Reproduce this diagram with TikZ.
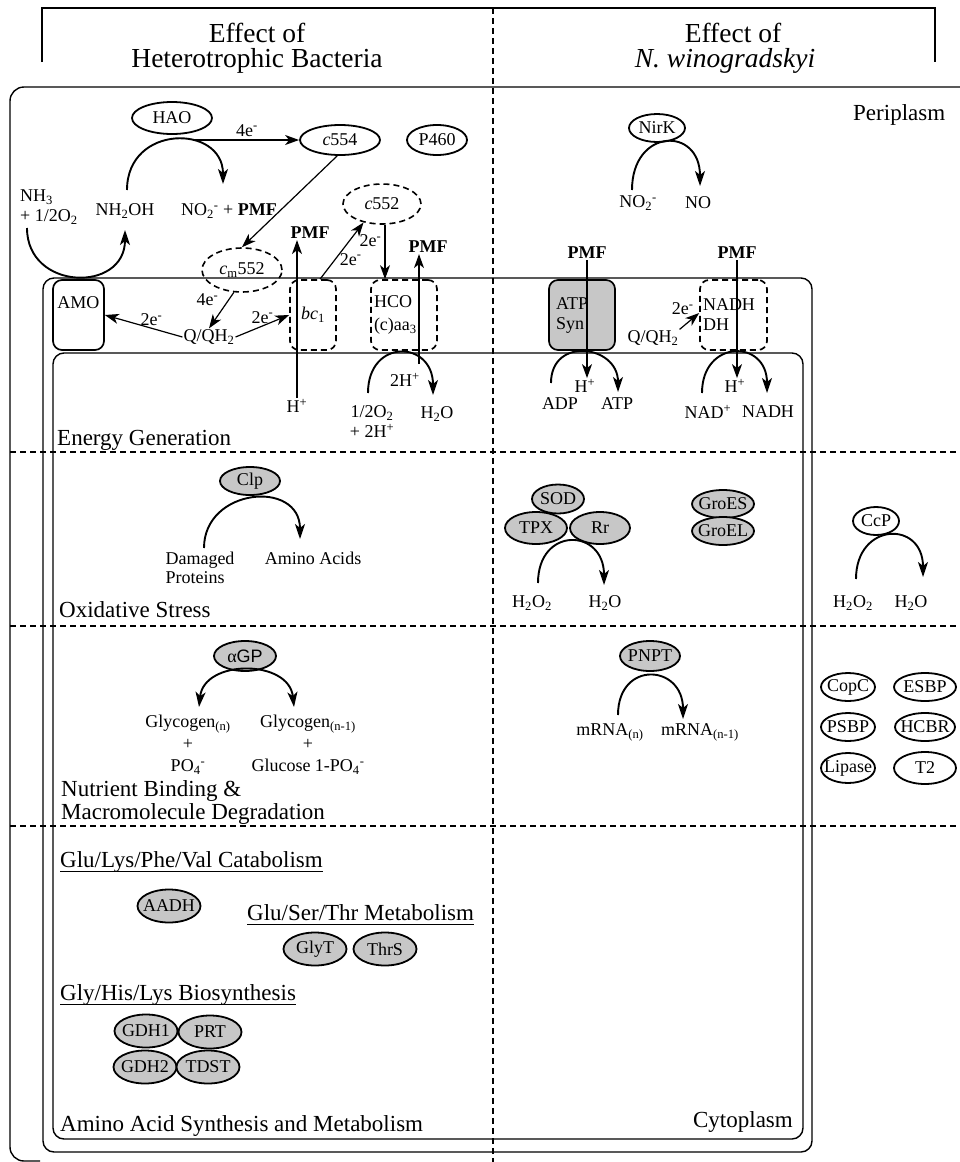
\documentclass[tikz,border=0pt]{standalone}
\usepackage{fontspec}
\setmainfont{Liberation Serif}
\newfontfamily\gpsans{Liberation Sans}
\usetikzlibrary{arrows.meta,shapes.geometric,positioning}
\newcommand{\lo}[1]{\textsubscript{#1}}
\newcommand{\hi}[1]{\textsuperscript{#1}}
\newcommand{\enz}[1]{\makebox[0pt]{#1}}

\begin{document}
\begin{tikzpicture}
      [x=1pt, y=-1pt,
      every node/.style={font=\fontsize{18}{20}\selectfont, inner sep=1pt},
      enzyme/.style={draw, ellipse, line width=1.8pt, fill=white, inner sep=0pt},
      enzyme grey/.style={enzyme, fill=black!22},
      enzyme dash/.style={draw, ellipse, line width=1.6pt, inner sep=0pt, dash pattern=on 6pt off 4pt},
      complex/.style={draw, rounded corners=9pt, line width=1.7pt, minimum height=70pt, inner ysep=0pt},
      complex dash/.style={complex, dash pattern=on 6pt off 4pt},
      area label/.style={font=\fontsize{23}{23}\selectfont, anchor=base west, align=left, inner sep=0pt},
      heading/.style={font=\fontsize{27.5}{28}\selectfont, anchor=base},
      flow/.style={line width=1.2pt, -{Stealth[length=14pt, width=10pt, inset=4pt]}},
      react/.style={line width=1.9pt, -{Stealth[length=15pt, width=10pt, inset=4pt]}},
      react both/.style={line width=1.9pt, {Stealth[length=15pt, width=10pt, inset=4pt]}-{Stealth[length=15pt, width=10pt, inset=4pt]}},
      membrane/.style={line width=1.4pt, rounded corners=11pt},
      divider/.style={line width=1.2pt, dash pattern=on 6pt off 4pt},
      ]
      \useasboundingbox (0,0) rectangle (959,1162);

      \draw[line width=1.3pt] (42,62) -- (42,8) -- (935,8) -- (935,62);
      \node[heading] (het1) at (257,42) {Effect of};
      \node[heading] (het2) at (257,67) {Heterotrophic Bacteria};
      \node[heading] (nw1) at (733,42) {Effect of};
      \node[heading] (nw2) at (725,67) {\textit{N. winogradskyi}};

      \draw[line width=1.4pt, rounded corners=14pt] (962,87) -- (10,87) -- (10,1161) -- (40,1161);
      \draw[membrane] (43,278) rectangle (812,1152);
      \draw[membrane] (53,353) rectangle (803,1139);
      \draw[divider] (493,8) -- (493,1162);
      \draw[divider] (10,452) -- (959,452);
      \draw[divider] (10,626) -- (959,626);
      \draw[divider] (10,826) -- (959,826);

      \node[area label] (peri) at (853,120) {Periplasm};
      \node[area label, anchor=base east] (cyto) at (793,1127) {Cytoplasm};
      \node[area label] (energy) at (57,445) {Energy Generation};
      \node[area label] (oxid) at (59,617) {Oxidative Stress};
      \node[area label, anchor=south west] (nutr) at (61,825) {Nutrient Binding \&\\Macromolecule Degradation};
      \node[area label] (amino) at (60,1131) {Amino Acid Synthesis and Metabolism};
      \node[area label] (cat) at (60,867) {Glu/Lys/Phe/Val Catabolism};
      \node[area label] (meta) at (247,920) {Glu/Ser/Thr Metabolism};
      \node[area label] (bios) at (60,1000) {Gly/His/Lys Biosynthesis};
      \draw[line width=1pt] ([yshift=-4pt]cat.base west) -- ([yshift=-4pt]cat.base east);
      \draw[line width=1pt] ([yshift=-4pt]meta.base west) -- ([yshift=-4pt]meta.base east);
      \draw[line width=1pt] ([yshift=-4pt]bios.base west) -- ([yshift=-4pt]bios.base east);

      \node[enzyme, minimum width=80pt, minimum height=32pt] (hao) at (172,118) {\enz{HAO}};
      \node[enzyme, minimum width=80pt, minimum height=30pt] (c554) at (340,140) {\enz{\textit{c}554}};
      \node[enzyme, minimum width=60pt, minimum height=30pt] (p460) at (437,140) {\enz{P460}};
      \node[enzyme dash, minimum width=78pt, minimum height=40pt] (c552) at (382,204) {\enz{\textit{c}552}};
      \node[enzyme dash, minimum width=80pt, minimum height=44pt] (cm552) at (242,270) {\enz{\textit{c}\lo{m}552}};
      \node[align=left, anchor=west] (nh3) at (19,207) {NH\lo{3}\\+ 1/2O\lo{2}};
      \node (nh2oh) at (125,211) {NH\lo{2}OH};
      \node (no2a) at (229,211) {NO\lo{2}\hi{-} + \textbf{PMF}};
      \coordinate (nh3c) at (27,228);
      \coordinate (nh2ohc) at (125,230);
      \draw[react] (nh3c) .. controls +(0,63) and +(0,63) .. (nh2ohc);
      \coordinate (haoin) at (127,190);
      \coordinate (haoout) at (223,184);
      \draw[react] (haoin) .. controls +(0,-66) and +(0,-60) .. (haoout);
      \coordinate (haoe) at (195,140);
      \draw[flow] (haoe) -- (c554) node[pos=0.5, above=2pt] {4e\hi{-}};
      \draw[flow] (c554.260) -- (cm552.north);

      \node[complex, minimum width=51pt, text height=13pt, text depth=27pt] (amo) at (78.5,315) {AMO};
      \node[complex dash, minimum width=46pt] (bc1) at (313,315) {\textit{bc}\lo{1}};
      \node[complex dash, text width=60pt, inner xsep=3pt, align=left] (hco) at (404,315) {HCO\\[3pt](c)aa\lo{3}};
      \node[complex, fill=black!22, text width=52pt, inner xsep=7pt, align=left] (atp) at (582,315) {ATP\\Syn};
      \node[complex dash, text width=61pt, inner xsep=3pt, align=left] (nadh) at (733.5,315) {NADH\\DH};

      \node (pmf1) at (310,233) {\textbf{PMF}};
      \node (hp1) at (297,406) {H\hi{+}};
      \draw[flow] (hp1.north) -- (hp1.north |- pmf1.south);
      \draw[flow] ([xshift=7pt]bc1.north) -- (c552.225) node[pos=0.35, right=3pt] {2e\hi{-}};
      \draw[flow] ([xshift=3pt]c552.south) -- ([xshift=3pt]c552.south |- hco.north) node[pos=0.3, left=2pt] {2e\hi{-}};
      \node (pmf2) at (428,247) {\textbf{PMF}};
      \coordinate (hcoup) at (419,364);
      \draw[flow] (hcoup) -- (hcoup |- pmf2.south);
      \node (h2h) at (405,380) {2H\hi{+}};
      \node[align=center] (o2b) at (372,422) {1/2O\lo{2}\\+ 2H\hi{+}};
      \node (h2ob) at (437,414) {H\lo{2}O};
      \coordinate (o2c) at (368,393);
      \coordinate (h2oc) at (433,395);
      \draw[react] (o2c) .. controls +(0,-55) and +(0,-55) .. (h2oc);
      \node (q1) at (209,337) {Q/QH\lo{2}};
      \draw[flow] (cm552.250) -- (q1.north) node[pos=0.2, left=9pt] {4e\hi{-}};
      \draw[flow] (q1.west) -- (amo.east) node[pos=0.4, above=1pt] {2e\hi{-}};
      \draw[flow] (q1.east) -- (bc1.west) node[midway, above=1pt] {2e\hi{-}};

      \node[enzyme, minimum width=56pt, minimum height=28pt] (nirk) at (657,128) {\enz{NirK}};
      \node (no2b) at (638,203) {NO\lo{2}\hi{-}};
      \node (no) at (698,203) {NO};
      \coordinate (nirin) at (632,190);
      \coordinate (nirout) at (700,186);
      \draw[react] (nirin) .. controls +(0,-62) and +(0,-60) .. (nirout);
      \node (pmf3) at (587,253) {\textbf{PMF}};
      \node (pmf4) at (737,253) {\textbf{PMF}};
      \node (hp3) at (585,386) {H\hi{+}};
      \draw[flow] (pmf3.south) -- (pmf3.south |- hp3.north);
      \node (adp) at (560,404) {ADP};
      \node (atpl) at (617,404) {ATP};
      \coordinate (adpc) at (551,383);
      \coordinate (atpc) at (618,392);
      \draw[react] (adpc) .. controls +(0,-47) and +(0,-47) .. (atpc);
      \node (q2) at (653,338) {Q/QH\lo{2}};
      \draw[flow] (q2.north east) -- ([yshift=2pt]nadh.west) node[pos=0.8, above left=0pt] {2e\hi{-}};
      \node (hp4) at (735,386) {H\hi{+}};
      \draw[flow] (pmf4.south) -- (pmf4.south |- hp4.north);
      \node (nadp) at (708,412) {NAD\hi{+}};
      \node (nadhl) at (768,412) {NADH};
      \coordinate (nadc) at (702,393);
      \coordinate (nadhc) at (767,393);
      \draw[react] (nadc) .. controls +(0,-54) and +(0,-54) .. (nadhc);

      \node[enzyme grey, minimum width=60pt, minimum height=28pt] (clp) at (250,481) {\enz{Clp}};
      \node[align=left, font=\fontsize{18}{19}\selectfont] (dmg) at (200,568) {Damaged\\Proteins};
      \node (aa) at (313,558) {Amino Acids};
      \coordinate (dmgc) at (204,548);
      \coordinate (aac) at (300,539);
      \draw[react] (dmgc) .. controls +(0,-60) and +(0,-60) .. (aac);
      \node[enzyme grey, minimum width=62pt, minimum height=32pt] (tpx) at (536,528) {\enz{TPX}};
      \node[enzyme grey, minimum width=60pt, minimum height=32pt] (rr) at (600,528) {\enz{Rr}};
      \node[enzyme grey, minimum width=52pt, minimum height=29pt] (sod) at (558,499) {\enz{SOD}};
      \node (h2o2a) at (532,603) {H\lo{2}O\lo{2}};
      \node (h2oa) at (605,603) {H\lo{2}O};
      \coordinate (soda) at (538,583);
      \coordinate (sodb) at (604,585);
      \draw[react] (soda) .. controls +(0,-57) and +(0,-57) .. (sodb);
      \node[enzyme grey, minimum width=62pt, minimum height=28pt] (groes) at (723,504) {\enz{GroES}};
      \node[enzyme grey, minimum width=62pt, minimum height=28pt] (groel) at (723,531) {\enz{GroEL}};
      \node[enzyme, minimum width=46pt, minimum height=28pt] (ccp) at (876,521) {\enz{CcP}};
      \node (h2o2b) at (853,603) {H\lo{2}O\lo{2}};
      \node (h2oc2) at (911,603) {H\lo{2}O};
      \coordinate (ccpa) at (856,579);
      \coordinate (ccpb) at (923,577);
      \draw[react] (ccpa) .. controls +(0,-57) and +(0,-57) .. (ccpb);

      \node[enzyme grey, minimum width=62pt, minimum height=30pt] (agp) at (245,656) {\enz{α{\gpsans GP}}};
      \coordinate (glya) at (199,707);
      \coordinate (glyb) at (294,707);
      \draw[react both] (glya) .. controls +(5,-48) and +(-5,-48) .. (glyb);
      \node[align=center, font=\fontsize{18}{22}\selectfont] (glyn) at (188,745) {Glycogen\lo{(n)}\\+\\PO\lo{4}\hi{-}};
      \node[align=center, font=\fontsize{18}{22}\selectfont] (glyn1) at (308,745) {Glycogen\lo{(n-1)}\\+\\Glucose 1-PO\lo{4}\hi{-}};
      \node[enzyme grey, minimum width=60pt, minimum height=30pt] (pnpt) at (650,656) {\enz{PNPT}};
      \node (mrna) at (610,732) {mRNA\lo{(n)}};
      \node (mrna1) at (700,732) {mRNA\lo{(n-1)}};
      \coordinate (mra) at (618,715);
      \coordinate (mrb) at (683,719);
      \draw[react] (mra) .. controls +(0,-55) and +(0,-55) .. (mrb);
      \node[enzyme, minimum width=54pt, minimum height=28pt] (copc) at (848,687) {\enz{CopC}};
      \node[enzyme, minimum width=62pt, minimum height=28pt] (esbp) at (925,687) {\enz{ESBP}};
      \node[enzyme, minimum width=54pt, minimum height=28pt] (psbp) at (848,727) {\enz{PSBP}};
      \node[enzyme, minimum width=60pt, minimum height=28pt] (hcbr) at (925,727) {\enz{HCBR}};
      \node[enzyme, minimum width=54pt, minimum height=30pt] (lipase) at (848,768) {\enz{Lipase}};
      \node[enzyme, minimum width=62pt, minimum height=32pt] (t2) at (925,768) {\enz{T2}};

      \node[enzyme grey, minimum width=63pt, minimum height=33pt] (aadh) at (169,906) {\enz{AADH}};
      \node[enzyme grey, minimum width=63pt, minimum height=33pt] (glyt) at (315,949) {\enz{GlyT}};
      \node[enzyme grey, minimum width=63pt, minimum height=33pt] (thrs) at (385,949) {\enz{ThrS}};
      \node[enzyme grey, minimum width=63pt, minimum height=33pt] (gdh1) at (146,1031) {\enz{GDH1}};
      \node[enzyme grey, minimum width=63pt, minimum height=33pt] (prt) at (210,1032) {\enz{PRT}};
      \node[enzyme grey, minimum width=63pt, minimum height=33pt] (gdh2) at (145,1067) {\enz{GDH2}};
      \node[enzyme grey, minimum width=63pt, minimum height=33pt] (tdst) at (208,1067) {\enz{TDST}};
    \end{tikzpicture}
\end{document}
